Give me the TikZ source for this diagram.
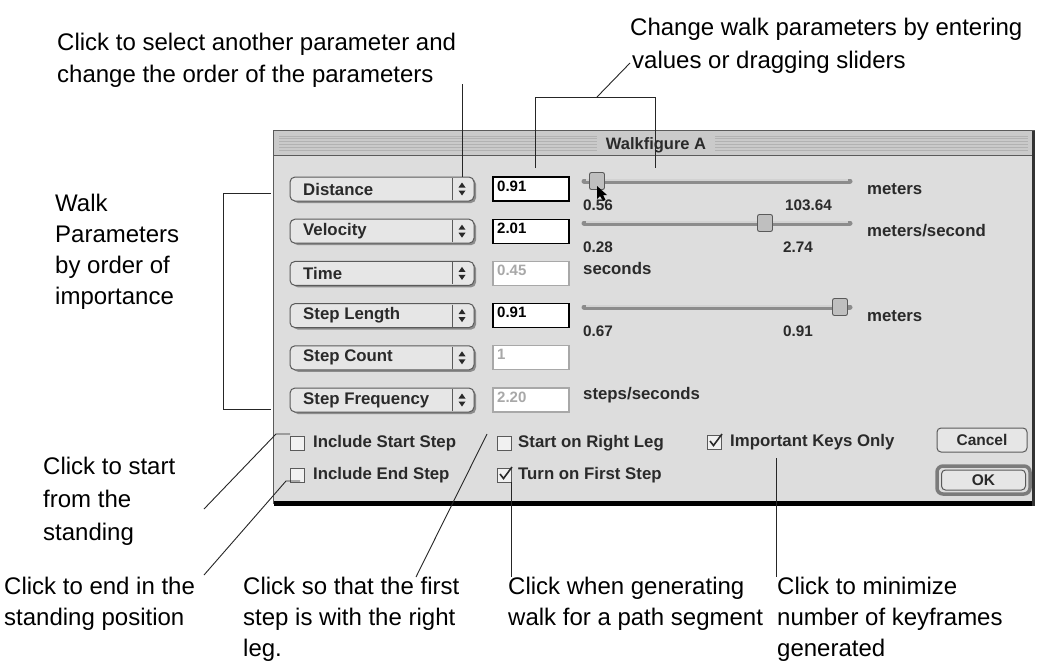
\documentclass[tikz,border=0pt]{standalone}
\usepackage{fontspec}
\setmainfont{Liberation Sans}
\definecolor{dlgbg}{HTML}{DDDDDD}
\definecolor{titlebg}{HTML}{CACACA}
\definecolor{stripe}{HTML}{B2B2B2}
\definecolor{edge}{HTML}{5A5A5A}
\definecolor{popfill}{HTML}{E6E6E6}
\definecolor{dimtxt}{HTML}{A8A8A8}
\definecolor{uitext}{HTML}{2A2A2A}
\definecolor{trackc}{HTML}{8C8C8C}
\begin{document}
\begin{tikzpicture}[x=1pt,y=-1pt,
  ann/.style={anchor=base west, inner sep=0pt, font=\fontsize{24}{28}\selectfont},
  conn/.style={draw=black!85, line width=0.9pt},
  popup/.style={draw=edge, line width=1pt, rounded corners=5pt, fill=popfill, minimum width=184pt, minimum height=24pt, inner sep=0pt},
  uilab/.style={anchor=west, inner sep=0pt, font=\bfseries\fontsize{16.8}{18}\selectfont, text=uitext},
  smalllab/.style={anchor=west, inner sep=0pt, font=\bfseries\fontsize{15.3}{16}\selectfont, text=uitext},
  field/.style={draw=#1, line width=1.2pt, fill=white, minimum width=76pt, minimum height=24pt, inner sep=0pt},
  thumb/.style={draw=edge, line width=0.9pt, fill=gray!50, rounded corners=2pt, minimum width=15pt, minimum height=17pt, inner sep=0pt},
  cbox/.style={draw=edge, line width=0.9pt, fill=white!60!dlgbg, minimum size=14pt, inner sep=0pt},
  btn/.style={draw=edge, line width=1pt, rounded corners=4pt, fill=popfill, inner sep=0pt, font=\bfseries\fontsize{15.5}{17}\selectfont, text=uitext},
  tick/.style={draw=uitext, line width=1.6pt},
  track/.style={draw=trackc, line width=5pt, line cap=round},
]
\useasboundingbox (0,0) rectangle (1039,662);
\fill[white] (0,0) rectangle (1039,662);

% ---------- dialog window ----------
\fill[dlgbg] (273,130) rectangle (1034,503);
\fill[titlebg] (274,131) rectangle (1033,155);
\foreach \k in {0,...,5} {
  \draw[stripe, line width=0.8pt] (279,{136+2.8*\k}) -- (1028,{136+2.8*\k});
}
\fill[titlebg] (597,133) rectangle (715,153);
\node[inner sep=0pt, font=\bfseries\fontsize{16.5}{18}\selectfont, text=uitext] (title) at (656,145) {Walkfigure A};
\draw[edge, line width=1pt] (273,130) rectangle (1034,503);
\draw[edge, line width=0.8pt] (274,155) -- (1033,155);
\fill[black] (274,501) rectangle (1035,506);
\fill[black!80] (1032,131) rectangle (1035,506);

% ---------- parameter rows ----------
\foreach \i/\lab/\val/\fb/\ft in {0/Distance/0.91/black/black, 1/Velocity/2.01/black/black, 2/Time/0.45/dimtxt/dimtxt, 3/Step Length/0.91/black/black, 4/Step Count/1/dimtxt/dimtxt, 5/Step Frequency/2.20/dimtxt/dimtxt} {
  \pgfmathsetmacro\yy{189+42.2*\i}
  \fill[black!45] (293,{\yy-10}) [rounded corners=5pt] rectangle (476,{\yy+14});
  \node[popup] (pop\i) at (382,\yy) {};
  \node[uilab] (poplab\i) at (303,\yy) {\lab};
  \draw[edge, line width=0.8pt] (452,{\yy-11}) -- (452,{\yy+11});
  \fill[uitext] (458.5,{\yy-1.5}) -- (465.5,{\yy-1.5}) -- (462,{\yy-6.5}) -- cycle;
  \fill[uitext] (458.5,{\yy+1.5}) -- (465.5,{\yy+1.5}) -- (462,{\yy+6.5}) -- cycle;
  \node[field=\fb] (fld\i) at (531,\yy) {};
  \node[smalllab, font=\fontsize{15}{16}\selectfont\bfseries, text=\ft] (val\i) at (497,{\yy-3}) {\val};
}

% ---------- sliders ----------
\draw[track] (584,181) -- (850,181);
\draw[gray!35, line width=1.2pt] (586,180) -- (848,180);
\node[thumb] (thumb0) at (597,181) {};
\fill[black] (597,186) -- (597,199) -- (600,196) -- (603,201) -- (605.5,200) -- (603,195) -- (607,195) -- cycle;
\node[smalllab] (lo0) at (583,205) {0.56};
\node[smalllab] (hi0) at (785,205) {103.64};
\node[uilab] (unit0) at (867,189) {meters};

\draw[track] (584,223) -- (850,223);
\draw[gray!35, line width=1.2pt] (586,222) -- (848,222);
\node[thumb] (thumb1) at (765,223) {};
\node[smalllab] (lo1) at (583,247) {0.28};
\node[smalllab] (hi1) at (783,247) {2.74};
\node[uilab] (unit1) at (867,231) {meters/second};

\node[uilab] (unit2) at (583,268) {seconds};

\draw[track] (584,307) -- (850,307);
\draw[gray!35, line width=1.2pt] (586,306) -- (848,306);
\node[thumb] (thumb3) at (840,307) {};
\node[smalllab] (lo3) at (583,331) {0.67};
\node[smalllab] (hi3) at (783,331) {0.91};
\node[uilab] (unit3) at (867,316) {meters};

\node[uilab] (unit5) at (583,395) {steps/seconds};

% ---------- check boxes ----------
\node[cbox] (cbStart) at (297.5,443) {};
\node[uilab] (lbStart) at (313,443) {Include Start Step};
\node[cbox] (cbEnd) at (297.5,475) {};
\node[uilab] (lbEnd) at (313,475) {Include End Step};
\node[cbox] (cbRight) at (504.5,443) {};
\node[uilab] (lbRight) at (518,443) {Start on Right Leg};
\node[cbox] (cbTurn) at (504.5,475) {};
\draw[tick] (500,474) -- (503.5,478.5) -- (512,467);
\node[uilab] (lbTurn) at (518,475) {Turn on First Step};
\node[cbox] (cbKeys) at (714.5,442) {};
\draw[tick] (710,441) -- (713.5,445.5) -- (722,434);
\node[uilab] (lbKeys) at (730,442) {Important Keys Only};

% ---------- buttons ----------
\node[btn, minimum width=90pt, minimum height=24pt] (cancel) at (982,440) {Cancel};
\draw[edge!80, line width=3.5pt, rounded corners=6pt] (937,466) rectangle (1030,494);
\node[btn, minimum width=84pt, minimum height=20pt] (ok) at (983.5,480) {OK};

% ---------- annotations ----------
\node[ann] (tA1) at (57,50) {Click to select another parameter and};
\node[ann] (tA2) at (57,82) {change the order of the parameters};
\node[ann] (tB1) at (630,35) {Change walk parameters by entering};
\node[ann] (tB2) at (632,68) {values or dragging sliders};
\node[ann] (tW1) at (55,211) {Walk};
\node[ann] (tW2) at (55,242) {Parameters};
\node[ann] (tW3) at (55,273) {by order of};
\node[ann] (tW4) at (55,304) {importance};
\node[ann] (tS1) at (43,474) {Click to start};
\node[ann] (tS2) at (43,507) {from the};
\node[ann] (tS3) at (43,540) {standing};
\node[ann] (tE1) at (4,594) {Click to end in the};
\node[ann] (tE2) at (4,625) {standing position};
\node[ann] (tF1) at (243,594) {Click so that the first};
\node[ann] (tF2) at (243,625) {step is with the right};
\node[ann] (tF3) at (243,656) {leg.};
\node[ann] (tG1) at (508,594) {Click when generating};
\node[ann] (tG2) at (508,625) {walk for a path segment};
\node[ann] (tM1) at (777,594) {Click to minimize};
\node[ann] (tM2) at (777,625) {number of keyframes};
\node[ann] (tM3) at (777,656) {generated};

% ---------- connectors ----------
\coordinate (cA) at (462,84);
\coordinate (cA2) at (462,177);
\draw[conn] (cA) -- (cA2);

\coordinate (br1) at (535,168);
\coordinate (br2) at (535,97);
\coordinate (br3) at (655,97);
\coordinate (br4) at (655,168);
\coordinate (brm) at (597,97);
\coordinate (brt) at (630,63);
\draw[conn] (br1) -- (br2) -- (br3) -- (br4);
\draw[conn] (brm) -- (brt);

\coordinate (lb1) at (271,193);
\coordinate (lb2) at (223,193);
\coordinate (lb3) at (223,409);
\coordinate (lb4) at (271,409);
\draw[conn] (lb1) -- (lb2) -- (lb3) -- (lb4);

\coordinate (s1) at (290,434);
\coordinate (s2) at (276,434);
\coordinate (s3) at (204,509);
\draw[conn] (s1) -- (s2) -- (s3);

\coordinate (e1) at (300,481);
\coordinate (e2) at (286,481);
\coordinate (e3) at (204,575);
\draw[conn] (e1) -- (e2) -- (e3);

\coordinate (f1) at (487,434);
\coordinate (f2) at (416,577);
\draw[conn] (f1) -- (f2);

\coordinate (g1) at (511,482);
\coordinate (g2) at (511,577);
\draw[conn] (g1) -- (g2);

\coordinate (m1) at (776,458);
\coordinate (m2) at (776,577);
\draw[conn] (m1) -- (m2);
\end{tikzpicture}
\end{document}
